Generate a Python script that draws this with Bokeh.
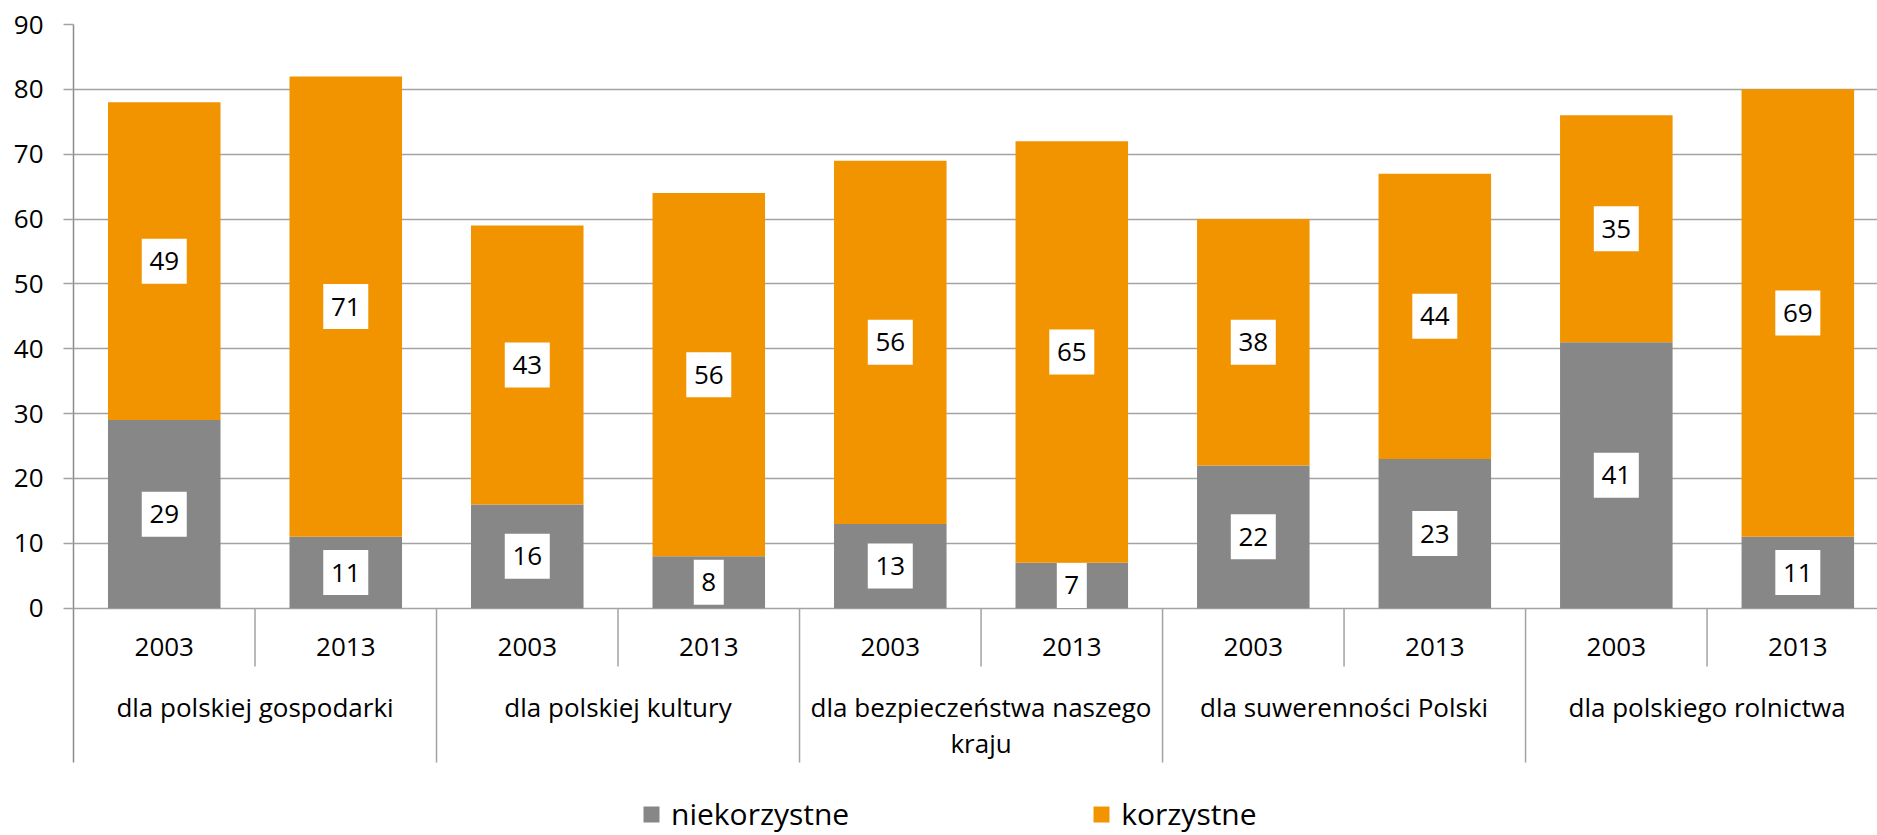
from bokeh.plotting import figure
from bokeh.models import ColumnDataSource, Range1d, FixedTicker
from bokeh.core.properties import value
from bokeh.embed import file_html
from bokeh.resources import INLINE

# ---- data ----
groups = ["dla polskiej gospodarki", "dla polskiej kultury",
          "dla bezpieczeństwa naszego\nkraju", "dla suwerenności Polski",
          "dla polskiego rolnictwa"]
years = ["2003", "2013"]
niekorzystne = [29, 11, 16, 8, 13, 7, 22, 23, 41, 11]
korzystne = [49, 71, 43, 56, 56, 65, 38, 44, 35, 69]
series_names = ["niekorzystne", "korzystne"]
y_ticks = [0, 10, 20, 30, 40, 50, 60, 70, 80, 90]

# ---- style / layout ----
GRAY = "#878787"
ORANGE = "#F29400"
FONT = "Open Sans"
W, H = 1877, 835
BORDER_L, BORDER_T = 73, 24
X_END = 9.939
Y_START = -35.05
YEAR_Y = -6.0
GROUP_Y = -12.5
SHORT_SEP = -9.0
LONG_SEP = -23.8

n = len(niekorzystne)
xs = [i + 0.5 for i in range(n)]
year_labels = [years[i % len(years)] for i in range(n)]

src = ColumnDataSource(dict(x=xs, niekorzystne=niekorzystne, korzystne=korzystne))

p = figure(width=W, height=H, output_backend="svg", toolbar_location=None,
           x_range=Range1d(0, X_END), y_range=Range1d(Y_START, 90),
           x_axis_location=None, min_border_left=BORDER_L, min_border_right=0,
           min_border_top=BORDER_T, min_border_bottom=0)
p.outline_line_color = None
p.background_fill_color = "white"
p.border_fill_color = "white"

# grid / y axis
p.xgrid.visible = False
p.yaxis.ticker = FixedTicker(ticks=y_ticks)
p.yaxis.bounds = (LONG_SEP, 90)
p.ygrid.grid_line_color = "#A3A3A3"
p.ygrid.grid_line_width = 1.5
p.yaxis.axis_line_color = "#8C8C8C"
p.yaxis.axis_line_width = 1.5
p.yaxis.major_tick_line_color = "#A3A3A3"
p.yaxis.major_tick_line_width = 1.5
p.yaxis.major_tick_out = 10
p.yaxis.major_tick_in = 0
p.yaxis.minor_tick_line_color = None
p.yaxis.major_label_standoff = 20
p.yaxis.major_label_text_font = FONT
p.yaxis.major_label_text_font_size = "26px"
p.yaxis.major_label_text_color = "#000000"

# bars
p.vbar_stack(series_names, x="x", width=0.62, source=src,
             fill_color=[GRAY, ORANGE], line_color=None,
             legend_label=series_names)

# data labels
lx, ly, lt, lw = [], [], [], []
for i in range(n):
    lx += [xs[i], xs[i]]
    ly += [niekorzystne[i] / 2, niekorzystne[i] + korzystne[i] / 2]
    lt += [str(niekorzystne[i]), str(korzystne[i])]
for t in lt:
    lw.append(15 + 15 * len(t))
lsrc = ColumnDataSource(dict(x=lx, y=ly, text=lt, w=lw))
p.rect(x="x", y="y", width="w", height=45, width_units="screen", height_units="screen",
       source=lsrc, fill_color="white", line_color=None)
p.text(x="x", y="y", text="text", source=lsrc, text_font=value(FONT),
       text_font_size="26px", text_align="center", text_baseline="middle",
       text_color="#000000")

# category axis (two levels) drawn in the extended frame
year_sep_x = [i for i in range(1, n, 2)]
group_sep_x = [i for i in range(2, n, 2)]
p.segment(x0=year_sep_x, y0=[0] * len(year_sep_x), x1=year_sep_x,
          y1=[SHORT_SEP] * len(year_sep_x), line_color="#A3A3A3", line_width=1.5)
p.segment(x0=group_sep_x, y0=[0] * len(group_sep_x), x1=group_sep_x,
          y1=[LONG_SEP] * len(group_sep_x), line_color="#A3A3A3", line_width=1.5)
p.text(x=xs, y=[YEAR_Y] * n, text=year_labels, text_font=value(FONT),
       text_font_size="26px", text_align="center", text_baseline="middle",
       text_color="#000000")
gx = [2 * g + 1 for g in range(len(groups))]
p.text(x=gx, y=[GROUP_Y] * len(groups), text=groups, text_font=value(FONT),
       text_font_size="26px", text_align="center", text_baseline="top",
       text_line_height=1.0, text_color="#000000")

# legend
lg = p.legend[0]
lg.orientation = "horizontal"
lg.location = (568, 1)
lg.margin = 0
lg.padding = 0
lg.spacing = 242
lg.glyph_width = 20
lg.glyph_height = 20
lg.label_standoff = 10
lg.label_text_font = FONT
lg.label_text_font_size = "30px"
lg.label_text_color = "#000000"
lg.border_line_color = None
lg.background_fill_alpha = 0

open("out.html", "w").write(file_html(p, INLINE))
